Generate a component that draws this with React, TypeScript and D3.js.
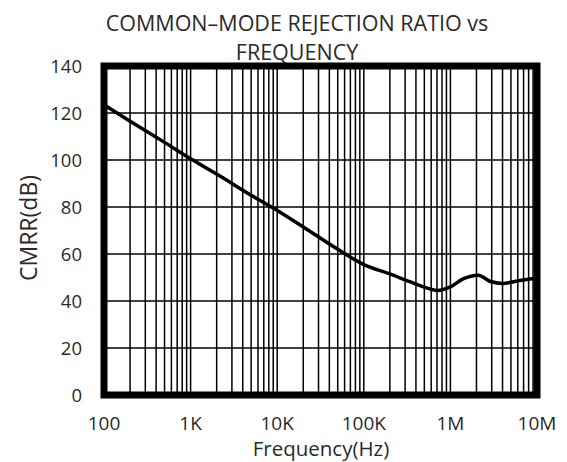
import React from 'react';
import * as d3 from 'd3';

const freqs = [100, 200, 500, 1e3, 2e3, 5e3, 1e4, 2e4, 5e4, 1e5, 2e5, 3.4e5, 5.4e5, 7e5, 1e6, 1.4e6, 2.1e6, 2.9e6, 4e6, 6.3e6, 1e7];
const cmrr = [123.5, 116.5, 107.5, 100.5, 94, 85, 78.5, 71.5, 62, 55.5, 51.5, 48.2, 45.5, 44.5, 46, 49.4, 51, 48.3, 47.5, 48.7, 49.8];
const yTicks = [0, 20, 40, 60, 80, 100, 120, 140];
const xTickVals = [1e2, 1e3, 1e4, 1e5, 1e6, 1e7];
const xTickLabels = ['100', '1K', '10K', '100K', '1M', '10M'];

const W = 567;
const H = 462;
const font = "'Open Sans', sans-serif";

export default function App() {
  const x = d3.scaleLog().domain([100, 1e7]).range([104, 537]);
  const y = d3.scaleLinear().domain([0, 140]).range([395, 66]);

  const line = d3
    .line<number>()
    .x((d, i) => x(freqs[i]))
    .y((d) => y(d))
    .curve(d3.curveMonotoneX);

  const vGrid = x.ticks();
  return (
    <svg width={W} height={H} style={{ position: 'absolute', left: 0, top: 0, background: '#fff' }}>
      <text x={297} y={31} textAnchor="middle" fontFamily={font} fontSize={21.5} fill="#2a2a2a">
        COMMON–MODE REJECTION RATIO vs
      </text>
      <text x={297} y={60} textAnchor="middle" fontFamily={font} fontSize={21.5} fill="#2a2a2a">
        FREQUENCY
      </text>

      {vGrid.map((f, i) => (
        <line key={'v' + i} x1={x(f)} x2={x(f)} y1={y(0)} y2={y(140)} stroke="#000" strokeWidth={1.5} />
      ))}
      {yTicks.map((t) => (
        <line key={'h' + t} x1={x(100)} x2={x(1e7)} y1={y(t)} y2={y(t)} stroke="#000" strokeWidth={1.5} />
      ))}
      <rect x={x(100)} y={y(140)} width={x(1e7) - x(100)} height={y(0) - y(140)} fill="none" stroke="#000" strokeWidth={7} />

      <path d={line(cmrr) || ''} fill="none" stroke="#000" strokeWidth={3.5} strokeLinejoin="round" />

      {yTicks.map((t) => (
        <text key={'yl' + t} x={82} y={y(t)} dy="0.36em" textAnchor="end" fontFamily={font} fontSize={18.5} fill="#2a2a2a">
          {t}
        </text>
      ))}
      {xTickVals.map((f, i) => (
        <text key={'xl' + i} x={x(f)} y={430} textAnchor="middle" fontFamily={font} fontSize={19} fill="#2a2a2a">
          {xTickLabels[i]}
        </text>
      ))}
      <text x={321} y={456} textAnchor="middle" fontFamily={font} fontSize={20.5} fill="#2a2a2a">
        Frequency(Hz)
      </text>
      <text transform="translate(37,228) rotate(-90)" textAnchor="middle" fontFamily={font} fontSize={23} fill="#2a2a2a">
        CMRR(dB)
      </text>
    </svg>
  );
}
